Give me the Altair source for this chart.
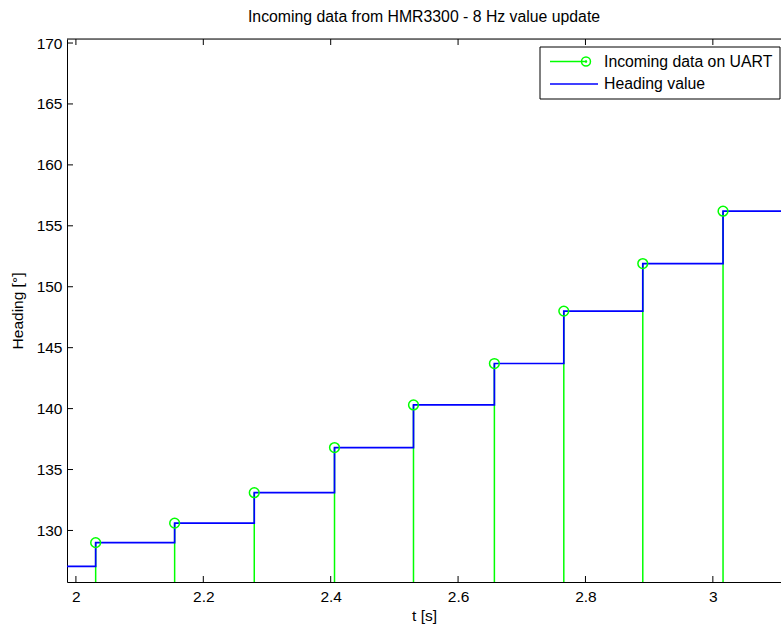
import altair as alt
import pandas as pd

chart_title = "Incoming data from HMR3300 - 8 Hz value update"
x_title = "t [s]"
y_title = "Heading [°]"
legend_labels = ["Incoming data on UART", "Heading value"]

# UART samples (stem + circle)
uart_t = [2.031, 2.155, 2.280, 2.406, 2.530, 2.657, 2.766, 2.890, 3.016]
uart_v = [129.0, 130.6, 133.1, 136.8, 140.3, 143.7, 148.0, 151.9, 156.2]

# Heading value (held between updates)
heading_t = [1.95, 2.031, 2.155, 2.280, 2.406, 2.530, 2.657, 2.766, 2.890, 3.016, 3.20]
heading_v = [127.05, 129.0, 130.6, 133.1, 136.8, 140.3, 143.7, 148.0, 151.9, 156.2, 156.2]

x_ticks = [2.0, 2.2, 2.4, 2.6, 2.8, 3.0]
y_ticks = [130, 135, 140, 145, 150, 155, 160, 165, 170]
x_domain = [1.986, 3.107]
y_domain = [125.77, 170.33]

W, H = 714, 543
GREEN = "#00ff00"
BLUE = "#0000ff"
FONT = "Liberation Sans"
FS = 15.5

df_uart = pd.DataFrame({"t": uart_t, "v": uart_v})
df_head = pd.DataFrame({"t": heading_t, "v": heading_v})
df_xt = pd.DataFrame({"t": x_ticks})
df_yt = pd.DataFrame({"v": y_ticks})
df_one = pd.DataFrame({"k": [0]})
df_leg1 = pd.DataFrame({"label": [legend_labels[0]]})
df_leg2 = pd.DataFrame({"label": [legend_labels[1]]})

xs = alt.Scale(domain=x_domain, nice=False, zero=False)
ys = alt.Scale(domain=y_domain, nice=False, zero=False)

x_enc = alt.X("t:Q", scale=xs, title=x_title,
              axis=alt.Axis(values=x_ticks, format="~g", tickSize=0, labelPadding=7,
                            grid=False, domainColor="black", domainWidth=1,
                            labelFontSize=FS, titleFontSize=FS, titlePadding=4,
                            labelColor="black", titleColor="black", titleFontWeight="normal"))
y_enc = alt.Y("v:Q", scale=ys, title=y_title,
              axis=alt.Axis(values=y_ticks, tickSize=0, labelPadding=5,
                            grid=False, domainColor="black", domainWidth=1,
                            labelFontSize=FS, titleFontSize=FS, titlePadding=11,
                            labelColor="black", titleColor="black", titleFontWeight="normal"))

stems = alt.Chart(df_uart).mark_rule(color=GREEN, strokeWidth=1.5).encode(
    x=x_enc, y=y_enc, y2=alt.value(H))

line = alt.Chart(df_head).mark_line(color=BLUE, strokeWidth=1.7, interpolate="step-after",
                                    clip=True).encode(x=x_enc, y=y_enc)

circles = alt.Chart(df_uart).mark_point(shape="circle", filled=False, color=GREEN,
                                        strokeWidth=1.5, size=95, opacity=1).encode(
    x=x_enc, y=y_enc)

# inward ticks (MATLAB style)
tick_bottom = alt.Chart(df_xt).mark_rule(color="black", strokeWidth=1).encode(
    x=alt.X("t:Q", scale=xs), y=alt.value(H), y2=alt.value(H - 6))
tick_top = alt.Chart(df_xt).mark_rule(color="black", strokeWidth=1).encode(
    x=alt.X("t:Q", scale=xs), y=alt.value(0), y2=alt.value(6))
tick_left = alt.Chart(df_yt).mark_rule(color="black", strokeWidth=1).encode(
    y=alt.Y("v:Q", scale=ys), x=alt.value(0), x2=alt.value(6))
top_frame = alt.Chart(df_one).mark_rule(color="black", strokeWidth=1).encode(
    x=alt.value(0), x2=alt.value(W), y=alt.value(0))

# legend
leg_box = alt.Chart(df_one).mark_rect(fill="white", stroke="black", strokeWidth=1).encode(
    x=alt.value(473), x2=alt.value(713), y=alt.value(8), y2=alt.value(60))
leg_line1 = alt.Chart(df_one).mark_rule(color=GREEN, strokeWidth=1.5).encode(
    x=alt.value(483), x2=alt.value(520), y=alt.value(22.5))
leg_circ1 = alt.Chart(df_one).mark_point(shape="circle", filled=False, color=GREEN,
                                         strokeWidth=1.5, size=80, opacity=1).encode(
    x=alt.value(519), y=alt.value(22.5))
leg_dot1 = alt.Chart(df_one).mark_point(shape="circle", filled=True, color=GREEN,
                                        size=6, opacity=1).encode(
    x=alt.value(519), y=alt.value(22.5))
leg_line2 = alt.Chart(df_one).mark_rule(color=BLUE, strokeWidth=1.5).encode(
    x=alt.value(483), x2=alt.value(531), y=alt.value(45))
leg_text1 = alt.Chart(df_leg1).mark_text(align="left", baseline="middle", fontSize=15.8,
                                         font=FONT, color="black").encode(
    x=alt.value(537), y=alt.value(22.5), text="label:N")
leg_text2 = alt.Chart(df_leg2).mark_text(align="left", baseline="middle", fontSize=15.8,
                                         font=FONT, color="black").encode(
    x=alt.value(537), y=alt.value(45), text="label:N")

chart = alt.layer(
    stems, line, circles, tick_bottom, tick_top, tick_left, top_frame,
    leg_box, leg_line1, leg_circ1, leg_dot1, leg_line2, leg_text1, leg_text2
).properties(
    width=W, height=H,
    title=alt.TitleParams(chart_title, fontSize=15.8, font=FONT, fontWeight="normal",
                          color="black", offset=10),
    autosize=alt.AutoSizeParams(type="none"),
    padding={"left": 67, "top": 39, "right": 0, "bottom": 44},
).configure_view(stroke=None).configure(font=FONT, background="white")

chart.save("out.html", embed_options={"renderer": "svg", "actions": False})
